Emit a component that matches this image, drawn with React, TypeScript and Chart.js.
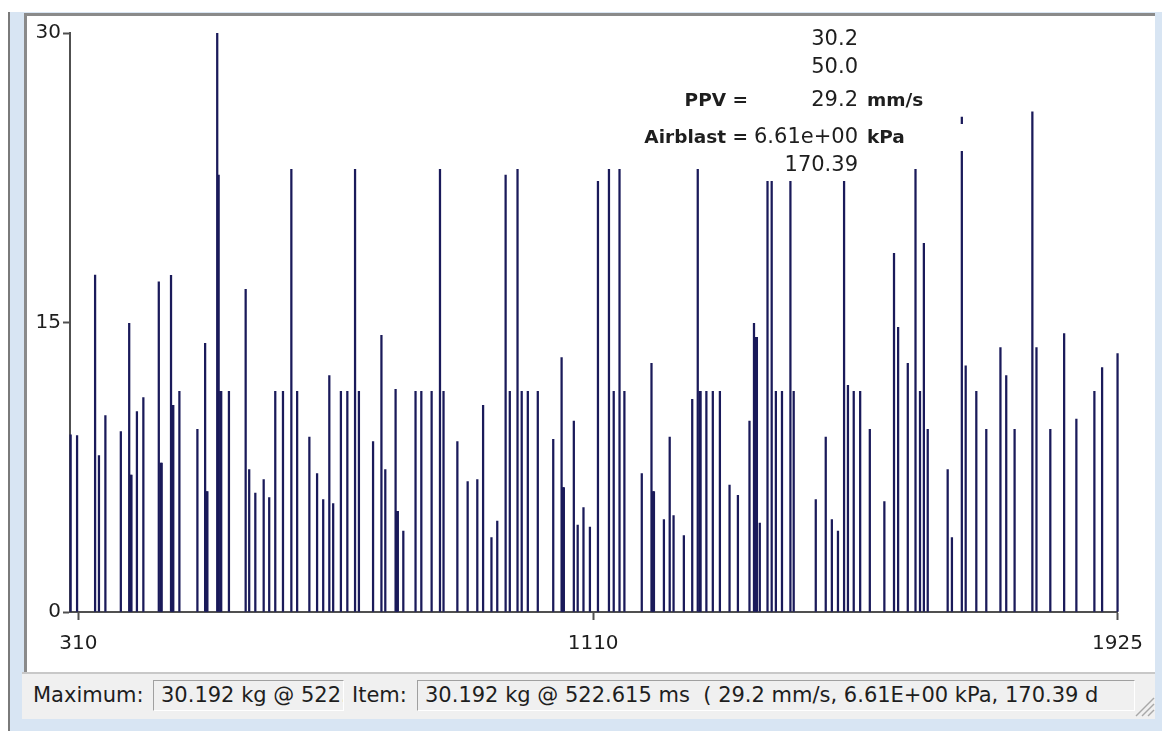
import React, { useEffect, useRef } from "react";
import { Chart, registerables } from "chart.js";

Chart.register(...registerables);

// Firing times (ms) of each charge
const times: number[] = [
  298, 308, 336, 342, 352, 376, 389, 391, 392.5, 401,
  411, 435, 438, 439.5, 454, 456, 457.5, 467, 495, 507,
  509, 510.5, 525.8, 528, 530.5, 532, 544, 570, 575.5, 585,
  598, 606.6, 616, 628, 641, 650, 669, 681, 690.5, 700,
  706, 718, 728, 740, 746, 768, 781, 787, 803, 805,
  806.5, 815, 834, 843, 859, 872, 877.5, 899, 915, 930,
  939, 952, 961, 974, 980.5, 992.5, 999, 1008.5, 1024, 1048,
  1061, 1063, 1064.5, 1080, 1086, 1095, 1105, 1117.5, 1134.6, 1142,
  1151, 1158.6, 1185.6, 1200.7, 1203, 1204.5, 1220, 1229, 1235, 1251,
  1264, 1272.6, 1275.5, 1277, 1286, 1296, 1307, 1322, 1335, 1353,
  1360, 1363, 1364.5, 1369, 1381, 1387.5, 1394, 1403.5, 1416.6, 1421.7,
  1456, 1471.5, 1481, 1490.5, 1500, 1506, 1515, 1525, 1540, 1562.6,
  1577.6, 1584, 1599, 1611, 1618, 1624, 1630, 1661, 1667.6, 1683,
  1689, 1705.5, 1721, 1743, 1752, 1765, 1792.6, 1799, 1820.5, 1842,
  1861, 1889, 1901, 1925,
];

// Charge mass (kg) for each time above
const charges: number[] = [
  9.18, 9.14, 17.46, 8.11, 10.18, 9.35, 14.96, 7.09, 7.09, 10.38,
  11.11, 17.11, 7.71, 7.71, 17.44, 10.71, 10.71, 11.44, 9.47, 13.92,
  6.24, 6.24, 30.19, 22.64, 11.44, 11.44, 11.44, 16.72, 7.38, 6.16,
  6.86, 5.93, 11.44, 11.44, 22.93, 11.44, 9.06, 7.17, 5.83, 12.25,
  5.62, 11.44, 11.44, 22.93, 11.44, 8.83, 14.34, 7.38, 11.54, 5.21,
  5.21, 4.19, 11.44, 11.44, 11.44, 22.93, 11.44, 8.83, 6.76, 6.86,
  10.71, 3.86, 4.71, 22.64, 11.44, 22.93, 11.44, 11.44, 11.44, 8.95,
  13.18, 6.45, 6.45, 9.89, 4.5, 5.41, 4.4, 22.31, 22.93, 11.44,
  22.93, 11.44, 7.17, 12.89, 6.24, 6.24, 4.79, 9.06, 5.0, 3.96,
  11.02, 22.93, 11.44, 11.44, 11.44, 11.44, 11.44, 6.57, 6.04, 9.89,
  14.96, 14.23, 14.23, 4.61, 22.31, 22.31, 11.44, 11.44, 22.31, 11.44,
  5.83, 9.06, 4.79, 4.19, 22.31, 11.75, 11.44, 11.44, 9.47, 5.72,
  18.58, 14.75, 12.89, 22.93, 11.44, 19.1, 9.47, 7.38, 3.86, 25.64,
  12.76, 11.44, 9.47, 13.7, 12.25, 9.47, 25.91, 13.7, 9.47, 14.42,
  9.99, 11.44, 12.66, 13.39,
];

const xTickValues: number[] = [310, 1110, 1925];
const yTickValues: number[] = [0, 15, 30];
const xRange: number[] = [297, 1925];
const yRange: number[] = [0, 30];

// Annotation block (selected item)
const annLabels: string[] = ["", "", "PPV =", "Airblast =", ""];
const annValues: string[] = ["30.2", "50.0", "29.2", "6.61e+00", "170.39"];
const annUnits: string[] = ["", "", "mm/s", "kPa", ""];

const statusMaximum = "30.192 kg @ 522.615 ms";
const statusItem = "30.192 kg @ 522.615 ms  ( 29.2 mm/s, 6.61E+00 kPa, 170.39 d";

const FONT = "'DejaVu Sans', 'Liberation Sans', sans-serif";
const TEXT = "#1e1e1e";
const AXIS = "#505050";
const BAR = "#1a1a5a";

export default function App() {
  const ref = useRef<HTMLCanvasElement>(null);

  useEffect(() => {
    const canvas = ref.current;
    if (!canvas) return;

    const rowY = [24, 52, 85, 122, 150];
    const annotation = {
      id: "annotation",
      afterDatasetsDraw(chart: any) {
        const ctx = chart.ctx as CanvasRenderingContext2D;
        ctx.save();
        ctx.fillStyle = "#ffffff";
        ctx.fillRect(613, 108, 345, 27);
        ctx.textBaseline = "middle";
        ctx.fillStyle = TEXT;
        for (let i = 0; i < annValues.length; i++) {
          const y = rowY[i];
          if (annLabels[i]) {
            ctx.font = `bold 18.5px ${FONT}`;
            ctx.textAlign = "right";
            ctx.fillText(annLabels[i], 721, y);
          }
          ctx.font = `21px ${FONT}`;
          ctx.textAlign = "right";
          ctx.fillText(annValues[i], 831, y);
          if (annUnits[i]) {
            ctx.font = `bold 18.5px ${FONT}`;
            ctx.textAlign = "left";
            ctx.fillText(annUnits[i], 840, y);
          }
        }
        ctx.restore();
      },
    };

    const chart = new Chart(canvas, {
      type: "bar",
      data: {
        datasets: [
          {
            data: times.map((t, i) => ({ x: t, y: charges[i] })) as any,
            backgroundColor: BAR,
            borderWidth: 0,
            barThickness: 1.6,
            clip: { left: 3, right: 3, top: 0, bottom: 0 } as any,
          },
        ],
      },
      options: {
        responsive: false,
        animation: false,
        devicePixelRatio: 1,
        layout: { padding: { left: 0, top: 17, right: 37, bottom: 0 } },
        plugins: {
          legend: { display: false },
          tooltip: { enabled: false },
          title: { display: false },
        },
        scales: {
          x: {
            type: "linear",
            min: xRange[0],
            max: xRange[1],
            offset: false,
            afterBuildTicks: (s: any) => {
              s.ticks = xTickValues.map((v) => ({ value: v }));
            },
            afterFit: (s: any) => {
              s.height = 60;
            },
            grid: {
              offset: false,
              drawOnChartArea: false,
              drawTicks: true,
              tickLength: 8,
              tickColor: AXIS,
              tickWidth: 2,
            },
            border: { display: true, color: AXIS, width: 2 },
            ticks: {
              color: TEXT,
              font: { family: FONT, size: 20 },
              padding: 12,
              maxRotation: 0,
              autoSkip: false,
              callback: (v: any) => String(v),
            },
          },
          y: {
            type: "linear",
            min: yRange[0],
            max: yRange[1],
            afterBuildTicks: (s: any) => {
              s.ticks = yTickValues.map((v) => ({ value: v }));
            },
            afterFit: (s: any) => {
              s.width = 43;
            },
            grid: {
              drawOnChartArea: false,
              drawTicks: true,
              tickLength: 7,
              tickColor: AXIS,
              tickWidth: 2,
            },
            border: { display: true, color: AXIS, width: 2 },
            ticks: {
              color: TEXT,
              font: { family: FONT, size: 20 },
              padding: 2,
              autoSkip: false,
              callback: (v: any) => String(v),
            },
          },
        },
      } as any,
      plugins: [annotation],
    });

    return () => chart.destroy();
  }, []);

  const boxStyle: React.CSSProperties = {
    position: "absolute",
    top: 680,
    height: 31,
    boxSizing: "border-box",
    borderLeft: "1px solid #a0a0a0",
    borderTop: "1px solid #a0a0a0",
    borderRight: "1px solid #ffffff",
    borderBottom: "1px solid #ffffff",
    background: "#f0f0f0",
    overflow: "hidden",
    whiteSpace: "pre",
    lineHeight: "29px",
    paddingLeft: 7,
    fontSize: 21,
    color: TEXT,
  };

  return (
    <div
      style={{
        position: "absolute",
        left: 0,
        top: 0,
        width: 1162,
        height: 731,
        background: "#ffffff",
        overflow: "hidden",
        fontFamily: FONT,
      }}
    >
      {/* window frame */}
      <div
        style={{
          position: "absolute",
          left: 8,
          top: 12,
          width: 1154,
          height: 719,
          background: "#d8e5f3",
          borderLeft: "2px solid #7a7a7a",
          boxSizing: "border-box",
        }}
      />
      {/* chart panel */}
      <div
        style={{
          position: "absolute",
          left: 24,
          top: 13,
          width: 1131,
          height: 659,
          background: "#ffffff",
          boxSizing: "border-box",
          borderLeft: "3px solid #8a8a8a",
          borderTop: "3px solid #8a8a8a",
        }}
      />
      <canvas
        ref={ref}
        width={1128}
        height={656}
        style={{ position: "absolute", left: 27, top: 16, width: 1128, height: 656 }}
      />
      {/* status bar */}
      <div
        style={{
          position: "absolute",
          left: 22,
          top: 672,
          width: 1133,
          height: 47,
          background: "#f0f0f0",
          borderTop: "2px solid #c8c8c8",
          boxSizing: "border-box",
        }}
      />
      <div
        style={{
          position: "absolute",
          left: 33,
          top: 680,
          lineHeight: "31px",
          fontSize: 21,
          color: TEXT,
          whiteSpace: "pre",
        }}
      >
        Maximum:
      </div>
      <div style={{ ...boxStyle, left: 153, width: 191 }}>{statusMaximum}</div>
      <div
        style={{
          position: "absolute",
          left: 352,
          top: 680,
          lineHeight: "31px",
          fontSize: 21,
          color: TEXT,
          whiteSpace: "pre",
        }}
      >
        Item:
      </div>
      <div style={{ ...boxStyle, left: 417, width: 718 }}>{statusItem}</div>
      <svg
        width={26}
        height={26}
        style={{ position: "absolute", left: 1130, top: 692 }}
      >
        <line x1={24} y1={6} x2={6} y2={24} stroke="#a8a8a8" strokeWidth={1.5} />
        <line x1={24} y1={12} x2={12} y2={24} stroke="#a8a8a8" strokeWidth={1.5} />
        <line x1={24} y1={18} x2={18} y2={24} stroke="#a8a8a8" strokeWidth={1.5} />
      </svg>
    </div>
  );
}
